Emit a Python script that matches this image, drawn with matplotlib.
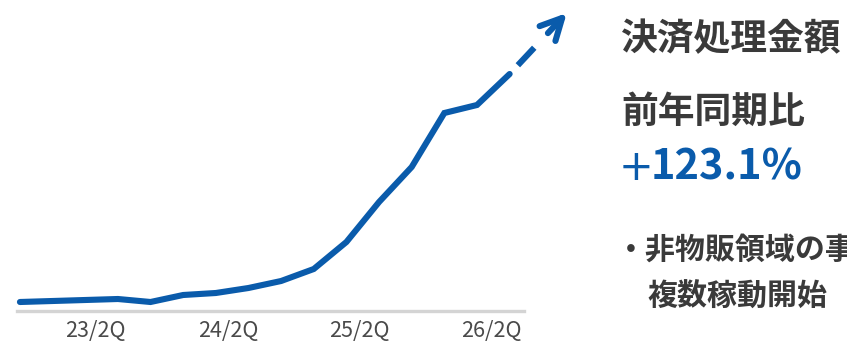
import numpy as np
import matplotlib
matplotlib.use("Agg")
import matplotlib.pyplot as plt

plt.rcParams['font.family'] = ['Noto Sans CJK JP', 'DejaVu Sans']
plt.rcParams['lines.scale_dashes'] = False

# quarterly values (arbitrary units)
quarters = np.arange(16)
values = [9, 10, 11, 12, 9, 16, 18, 23, 30, 42, 69, 109, 144, 198, 206, 237]
# projected continuation (dashed + arrow)
proj_x = [15, 16.75]
proj_y = [237, 298]
tick_pos = [2.3, 6.37, 10.4, 14.45]
tick_labels = ['23/2Q', '24/2Q', '25/2Q', '26/2Q']

title = '決済処理金額'
yoy_label = '前年同期比'
yoy_sign = '+'
yoy_value = '123.1%'
note_1 = '・非物販領域の事業が'
note_2 = '複数稼動開始'

blue = '#0a5bab'
dark = '#3a3a3a'

fig = plt.figure(figsize=(8.47, 3.44), dpi=100)
W, H = 847, 344
ax = fig.add_axes([17 / W, (H - 311) / H, 507 / W, 301 / H])
ax.set_xlim(-0.09, 15.44)
ax.set_ylim(0, 301)

ax.plot(quarters, values, color=blue, lw=4.4, solid_capstyle='round',
        solid_joinstyle='miter', clip_on=False, zorder=3)

# dashed part up to where the arrow shaft begins
frac = 0.67
mid_x = proj_x[0] + frac * (proj_x[1] - proj_x[0])
mid_y = proj_y[0] + frac * (proj_y[1] - proj_y[0])
px = 0.72
ax.plot([proj_x[0], mid_x], [proj_y[0], mid_y], color=blue, lw=4.4,
        linestyle=(32 * px, (24 * px, 20 * px)), dash_capstyle='butt',
        clip_on=False, zorder=3)
ax.annotate('', xy=(proj_x[1], proj_y[1]), xytext=(mid_x, mid_y),
            arrowprops=dict(arrowstyle='->,head_length=0.77,head_width=0.39',
                            color=blue, lw=4.4, mutation_scale=20,
                            shrinkA=0, shrinkB=0, capstyle='round'),
            annotation_clip=False, zorder=3)

for s in ['top', 'left', 'right']:
    ax.spines[s].set_visible(False)
ax.spines['bottom'].set_color('#d4d4d4')
ax.spines['bottom'].set_linewidth(2.4)
ax.set_yticks([])
ax.set_xticks(tick_pos, tick_labels)
ax.tick_params(axis='x', length=0, pad=6.5, labelsize=15.5, labelcolor='#4a4a4a')

def fy(y):
    return 1 - y / H

fig.text(621 / W, fy(40), title, fontsize=26.5, fontweight='bold', color=dark,
         ha='left', va='center')
fig.text(621 / W, fy(112.5), yoy_label, fontsize=26.5, fontweight='bold', color=dark,
         ha='left', va='center')
fig.text(619 / W, fy(180), yoy_sign, fontsize=30, fontweight='normal', color=blue,
         family='DejaVu Sans', ha='left', va='baseline')
fig.text(651 / W, fy(180), yoy_value, fontsize=30, fontweight='bold', color=blue,
         ha='left', va='baseline')
fig.text(616 / W, fy(250), note_1, fontsize=21.6, fontweight='bold', color=dark,
         ha='left', va='center')
fig.text(647 / W, fy(297), note_2, fontsize=21.6, fontweight='bold', color=dark,
         ha='left', va='center')

fig.savefig('out.png', dpi=100)
